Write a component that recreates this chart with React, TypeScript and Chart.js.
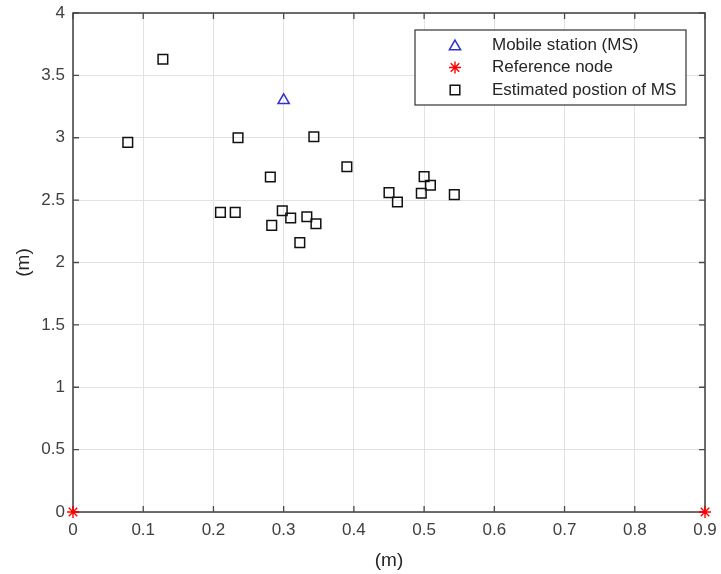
import React, { useEffect, useRef } from 'react';
import { Chart, registerables } from 'chart.js';
import { drawPoint } from 'chart.js/helpers';

Chart.register(...registerables);

// ---- Data ----
const msX = [0.3];
const msY = [3.3];

const refX = [0, 0.9];
const refY = [0, 0];

const estX = [0.078, 0.128, 0.235, 0.343, 0.39, 0.281, 0.21, 0.231, 0.298, 0.31, 0.283, 0.333, 0.346, 0.323, 0.45, 0.462, 0.5, 0.509, 0.496, 0.543];
const estY = [2.963, 3.629, 3.0, 3.008, 2.768, 2.685, 2.402, 2.402, 2.415, 2.357, 2.298, 2.367, 2.311, 2.159, 2.56, 2.485, 2.688, 2.619, 2.555, 2.544];

const xTicks = [0, 0.1, 0.2, 0.3, 0.4, 0.5, 0.6, 0.7, 0.8, 0.9];
const xTickLabels = ['0', '0.1', '0.2', '0.3', '0.4', '0.5', '0.6', '0.7', '0.8', '0.9'];
const yTicks = [0, 0.5, 1, 1.5, 2, 2.5, 3, 3.5, 4];
const yTickLabels = ['0', '0.5', '1', '1.5', '2', '2.5', '3', '3.5', '4'];

const seriesNames = ['Mobile station (MS)', 'Reference node', 'Estimated postion of MS'];
const xTitle = '(m)';
const yTitle = '(m)';

const FONT = "'Liberation Sans', Arial, sans-serif";

const boxPlugin = {
  id: 'matlabBox',
  beforeDatasetsDraw(chart: any) {
    const { ctx, chartArea: a, scales } = chart;
    ctx.save();
    ctx.strokeStyle = '#4a4a4a';
    ctx.lineWidth = 1.3;
    const tl = 6;
    ctx.beginPath();
    xTicks.forEach((v) => {
      const px = scales.x.getPixelForValue(v);
      ctx.moveTo(px, a.bottom);
      ctx.lineTo(px, a.bottom - tl);
      ctx.moveTo(px, a.top);
      ctx.lineTo(px, a.top + tl);
    });
    yTicks.forEach((v) => {
      const py = scales.y.getPixelForValue(v);
      ctx.moveTo(a.left, py);
      ctx.lineTo(a.left + tl, py);
      ctx.moveTo(a.right, py);
      ctx.lineTo(a.right - tl, py);
    });
    ctx.stroke();
    ctx.lineWidth = 1.6;
    ctx.strokeRect(a.left, a.top, a.right - a.left, a.bottom - a.top);
    ctx.restore();
  },
};

const legendPlugin = {
  id: 'matlabLegend',
  afterDraw(chart: any) {
    const { ctx } = chart;
    const left = 415, top = 30, right = 686, bottom = 105;
    ctx.save();
    ctx.fillStyle = '#ffffff';
    ctx.fillRect(left, top, right - left, bottom - top);
    ctx.strokeStyle = '#333333';
    ctx.lineWidth = 1.2;
    ctx.strokeRect(left, top, right - left, bottom - top);
    const rows = [45, 67.5, 90];
    chart.data.datasets.forEach((ds: any, i: number) => {
      const y = rows[i];
      ctx.save();
      ctx.strokeStyle = ds.borderColor;
      ctx.fillStyle = 'rgba(0,0,0,0)';
      ctx.lineWidth = ds.borderWidth;
      drawPoint(ctx, { pointStyle: ds.pointStyle, radius: ds.pointRadius, rotation: 0, borderWidth: ds.borderWidth } as any, 455, y + (ds.pointStyle === 'triangle' ? 1.5 : 0));
      ctx.restore();
      ctx.fillStyle = '#262626';
      ctx.font = `17px ${FONT}`;
      ctx.textBaseline = 'middle';
      ctx.textAlign = 'left';
      ctx.fillText(seriesNames[i], 492, y);
    });
    ctx.restore();
  },
};

export default function App() {
  const ref = useRef<HTMLCanvasElement>(null);
  useEffect(() => {
    const chart = new Chart(ref.current as HTMLCanvasElement, {
      type: 'scatter',
      data: {
        datasets: [
          {
            label: seriesNames[0],
            data: msX.map((x, i) => ({ x, y: msY[i] })),
            pointStyle: 'triangle',
            pointRadius: 6.5,
            borderColor: '#3333cc',
            backgroundColor: 'rgba(0,0,0,0)',
            borderWidth: 1.5,
            clip: false as any,
          },
          {
            label: seriesNames[1],
            data: refX.map((x, i) => ({ x, y: refY[i] })),
            pointStyle: 'star',
            pointRadius: 6,
            borderColor: '#ff0000',
            backgroundColor: 'rgba(0,0,0,0)',
            borderWidth: 1.4,
            clip: false as any,
          },
          {
            label: seriesNames[2],
            data: estX.map((x, i) => ({ x, y: estY[i] })),
            pointStyle: 'rect',
            pointRadius: 6.8,
            borderColor: '#111111',
            backgroundColor: 'rgba(0,0,0,0)',
            borderWidth: 1.5,
            clip: false as any,
          },
        ] as any,
      },
      options: {
        animation: false,
        responsive: false,
        events: [],
        layout: { padding: { top: 13, right: 16, left: 0, bottom: 0 } },
        plugins: {
          legend: { display: false },
          tooltip: { enabled: false },
        },
        scales: {
          x: {
            type: 'linear',
            min: 0,
            max: 0.9,
            afterBuildTicks: (s: any) => {
              s.ticks = xTicks.map((v) => ({ value: v }));
            },
            afterFit: (s: any) => {
              s.height = 62;
              s.paddingLeft = 0;
              s.paddingRight = 0;
              s.paddingTop = 0;
              s.paddingBottom = 0;
            },
            grid: { color: '#e2e2e2', drawTicks: false, lineWidth: 1 },
            border: { display: false },
            ticks: {
              padding: 8,
              color: '#404040',
              font: { family: FONT, size: 17 },
              maxRotation: 0,
              autoSkip: false,
              callback: (_v: any, i: number) => xTickLabels[i],
            },
            title: {
              display: true,
              text: xTitle,
              color: '#262626',
              font: { family: FONT, size: 19 },
              padding: { top: 0, bottom: 2 },
            },
          },
          y: {
            type: 'linear',
            min: 0,
            max: 4,
            afterBuildTicks: (s: any) => {
              s.ticks = yTicks.map((v) => ({ value: v }));
            },
            afterFit: (s: any) => {
              s.width = 73;
              s.paddingLeft = 0;
              s.paddingRight = 0;
              s.paddingTop = 0;
              s.paddingBottom = 0;
            },
            grid: { color: '#e2e2e2', drawTicks: false, lineWidth: 1 },
            border: { display: false },
            ticks: {
              padding: 8,
              color: '#404040',
              font: { family: FONT, size: 17 },
              autoSkip: false,
              callback: (_v: any, i: number) => yTickLabels[i],
            },
            title: {
              display: true,
              text: yTitle,
              color: '#262626',
              font: { family: FONT, size: 19 },
              padding: { top: 12, bottom: 0 },
            },
          },
        },
      } as any,
      plugins: [boxPlugin, legendPlugin],
    });
    return () => chart.destroy();
  }, []);
  return (
    <div style={{ position: 'absolute', left: 0, top: 0, width: 721, height: 574, background: '#fff' }}>
      <canvas ref={ref} width={721} height={574} style={{ width: 721, height: 574, display: 'block' }} />
    </div>
  );
}
